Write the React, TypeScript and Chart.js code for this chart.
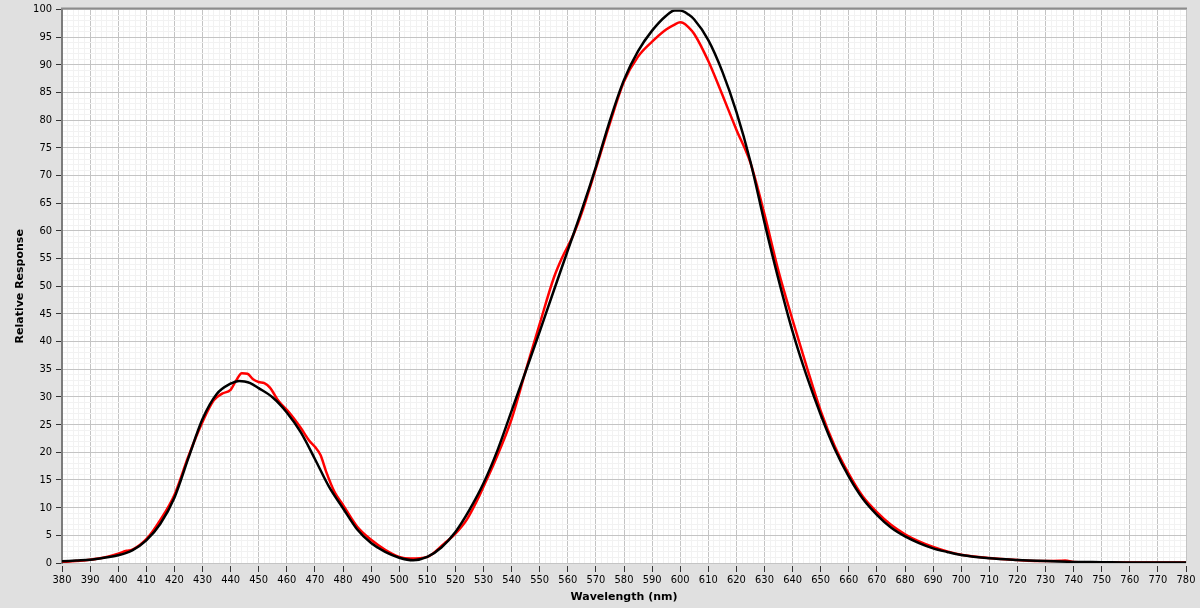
import React, { useEffect, useRef } from 'react';
import { Chart, registerables } from 'chart.js';

Chart.register(...registerables);

// Black (reference) curve
const blackWavelengths = [380, 385, 390, 395, 400, 405, 410, 415, 420, 425, 430, 435, 440, 443, 445, 447, 450, 455, 460, 465, 470, 475, 480, 485, 490, 495, 500, 505, 510, 515, 520, 525, 530, 535, 540, 545, 550, 555, 560, 565, 570, 575, 580, 585, 590, 595, 598, 600, 603, 605, 610, 615, 620, 625, 630, 635, 640, 645, 650, 655, 660, 665, 670, 675, 680, 685, 690, 695, 700, 710, 720, 730, 740, 750, 760, 770, 780];
const blackResponse = [0.3, 0.45, 0.6, 0.95, 1.4, 2.3, 4.1, 7.1, 11.8, 19, 26, 30.5, 32.4, 32.9, 32.8, 32.5, 31.6, 29.9, 27.2, 23.6, 18.8, 13.8, 9.9, 6.1, 3.6, 2.0, 0.96, 0.5, 1.1, 2.8, 5.6, 9.6, 14.4, 20.4, 27.5, 34.6, 41.8, 49.2, 56.5, 63.8, 71.6, 80, 87.3, 92.5, 96.2, 98.9, 99.85, 99.85, 99.1, 98.2, 94.5, 88.8, 81.5, 72.5, 61.5, 51.2, 41.8, 33.8, 26.8, 20.6, 15.6, 11.6, 8.7, 6.4, 4.8, 3.6, 2.65, 2.0, 1.45, 0.85, 0.55, 0.35, 0.2, 0.15, 0.1, 0.1, 0.1];

// Red (measured) curve
const redWavelengths = [380, 385, 390, 395, 400, 403, 405, 410, 415, 420, 425, 430, 434, 437, 440, 442, 444, 446, 448, 450, 452, 454, 457, 461, 465, 468, 470, 472, 474, 477, 480, 485, 490, 495, 500, 504, 510, 516, 520, 524, 528, 530, 534, 540, 545, 550, 555, 558, 562, 565, 570, 575, 580, 585, 590, 595, 598, 600, 601, 603, 605, 610, 615, 620, 625, 630, 635, 640, 645, 650, 655, 660, 665, 670, 675, 680, 685, 690, 695, 700, 710, 720, 730, 735, 737, 740, 750, 760, 770, 780];
const redResponse = [0.2, 0.35, 0.6, 1.0, 1.7, 2.2, 2.4, 4.3, 7.8, 12.3, 19.3, 25.5, 29.4, 30.6, 31.3, 33, 34.3, 34.2, 33.2, 32.7, 32.5, 31.7, 29.3, 27.1, 24.4, 22.1, 21, 19.5, 16.5, 12.8, 10.5, 6.6, 4.2, 2.4, 1.1, 0.8, 1.1, 3.5, 5.3, 7.8, 11.6, 13.8, 18.3, 26, 34.7, 43.2, 51.5, 55.2, 59.3, 63.3, 71.3, 79.5, 87, 91.5, 94.2, 96.4, 97.3, 97.7, 97.6, 96.8, 95.6, 90.7, 84.6, 78.3, 72.3, 63, 52.7, 43.9, 35.5, 27.5, 21.1, 16.1, 12, 9.2, 6.9, 5.2, 3.9, 2.9, 2.1, 1.5, 0.9, 0.55, 0.35, 0.4, 0.45, 0.2, 0.1, 0.1, 0.1, 0.1];

const xMin = 380;
const xMax = 780;
const xMinorStep = 2;
const xMajorStep = 10;
const yMin = 0;
const yMax = 100;
const yMinorStep = 1;
const yMajorStep = 5;

const MAJOR_GRID = '#c4c4c4';
const MINOR_GRID = '#f2f2f2';
const TICK_FONT = { family: "'DejaVu Sans Condensed', 'DejaVu Sans', sans-serif", size: 11 };
const TITLE_FONT = { family: "'DejaVu Sans', sans-serif", size: 11, weight: 'bold' as const };

const plotFrame = {
  id: 'plotFrame',
  beforeDraw(chart: any) {
    const { ctx, chartArea: a } = chart;
    ctx.save();
    ctx.fillStyle = '#ffffff';
    ctx.fillRect(a.left, a.top, a.right - a.left, a.bottom - a.top);
    ctx.restore();
  },
  afterDraw(chart: any) {
    const { ctx, chartArea: a } = chart;
    ctx.save();
    ctx.strokeStyle = '#8c8c8c';
    ctx.lineWidth = 2;
    ctx.beginPath();
    ctx.moveTo(a.left - 1, a.top - 1);
    ctx.lineTo(a.right + 1, a.top - 1);
    ctx.stroke();
    ctx.restore();
  },
};

export default function App() {
  const ref = useRef<HTMLCanvasElement | null>(null);

  useEffect(() => {
    if (!ref.current) return;
    const chart = new Chart(ref.current, {
      type: 'line',
      data: {
        datasets: [
          {
            label: 'Reference',
            data: blackWavelengths.map((x, i) => ({ x, y: blackResponse[i] })),
            borderColor: '#000000',
            borderWidth: 2.5,
            pointRadius: 0,
            cubicInterpolationMode: 'monotone',
            fill: false,
          },
          {
            label: 'Measured',
            data: redWavelengths.map((x, i) => ({ x, y: redResponse[i] })),
            borderColor: '#ff0000',
            borderWidth: 2.5,
            pointRadius: 0,
            cubicInterpolationMode: 'monotone',
            fill: false,
          },
        ],
      },
      options: {
        animation: false,
        responsive: false,
        layout: { padding: { top: 9, right: 14, left: 0, bottom: 0 } },
        plugins: {
          legend: { display: false },
          tooltip: { enabled: false },
        },
        scales: {
          x: {
            type: 'linear',
            min: xMin,
            max: xMax,
            afterFit: (s: any) => { s.height = 45; },
            ticks: {
              stepSize: xMinorStep,
              maxTicksLimit: 1000,
              autoSkip: false,
              maxRotation: 0,
              minRotation: 0,
              color: '#000',
              font: TICK_FONT,
              padding: 2,
              callback: (v: any) => (Number(v) % xMajorStep === 0 ? String(v) : ''),
            },
            grid: {
              color: (c: any) => (c.tick && c.tick.value % xMajorStep === 0 ? MAJOR_GRID : MINOR_GRID),
              tickColor: (c: any) => (c.tick && c.tick.value % xMajorStep === 0 ? '#333333' : 'rgba(0,0,0,0)'),
              tickLength: 9,
              tickBorderDash: [0, 3, 6, 30],
              lineWidth: 1,
            },
            border: { display: false },
            title: {
              display: true,
              text: 'Wavelength (nm)',
              color: '#000',
              font: TITLE_FONT,
              padding: { top: 0, bottom: 4 },
            },
          },
          y: {
            type: 'linear',
            min: yMin,
            max: yMax,
            afterFit: (s: any) => { s.width = 62; },
            ticks: {
              stepSize: yMinorStep,
              maxTicksLimit: 1000,
              autoSkip: false,
              color: '#000',
              font: TICK_FONT,
              padding: 3,
              callback: (v: any) => (Number(v) % yMajorStep === 0 ? String(v) : ''),
            },
            grid: {
              color: (c: any) => (c.tick && c.tick.value % yMajorStep === 0 ? MAJOR_GRID : MINOR_GRID),
              tickColor: (c: any) => (c.tick && c.tick.value % yMajorStep === 0 ? '#333333' : 'rgba(0,0,0,0)'),
              tickLength: 7,
              tickBorderDash: [0, 1, 6, 30],
              lineWidth: 1,
            },
            border: { display: true, color: '#7c7c7c', width: 2 },
            title: {
              display: true,
              text: 'Relative Response',
              color: '#000',
              font: TITLE_FONT,
              padding: { top: 14, bottom: 0 },
            },
          },
        },
      },
      plugins: [plotFrame],
    } as any);
    return () => chart.destroy();
  }, []);

  return (
    <div style={{ position: 'fixed', left: 0, top: 0, width: 1200, height: 608, background: '#e0e0e0' }}>
      <canvas ref={ref} width={1200} height={608} style={{ width: 1200, height: 608, display: 'block' }} />
    </div>
  );
}
